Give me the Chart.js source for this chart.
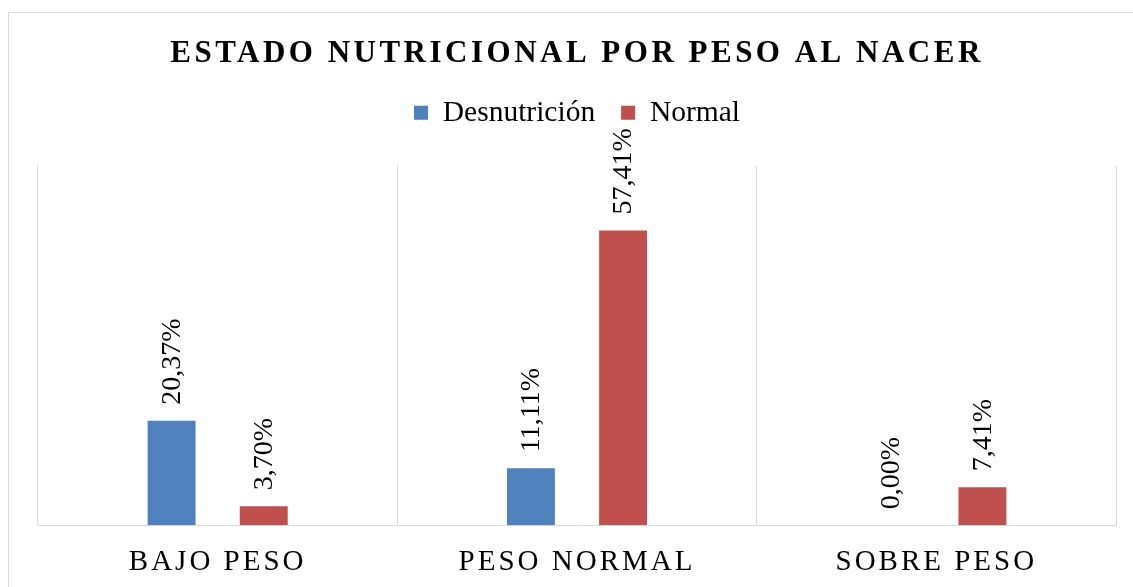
<!DOCTYPE html>
<html>
<head>
<meta charset="utf-8">
<script src="https://cdn.jsdelivr.net/npm/chart.js@4.4.0/dist/chart.umd.min.js"></script>
<style>
    html, body { margin: 0; padding: 0; background: #fff; }
    #wrap { width: 1133px; height: 587px; position: relative; }
</style>
</head>
<body>
<div id="wrap"><canvas id="myChart"></canvas></div>
<script>
var categories = ['BAJO PESO', 'PESO NORMAL', 'SOBRE PESO']
var desnutricion = [20.37, 11.11, 0.00]
var normal = [3.70, 57.41, 7.41]
var seriesNames = ['Desnutrición', 'Normal']
var chartTitle = 'ESTADO NUTRICIONAL POR PESO AL NACER'

var serif = '"Liberation Serif", "Times New Roman", serif'

// white background + thin gray frame, letter spacing for title and axis labels
var frame = {
    id: 'frame',
    beforeDraw: function (chart) {
        var ctx = chart.ctx
        ctx.save()
        ctx.fillStyle = '#fff'
        ctx.fillRect(0, 0, chart.width, chart.height)
        ctx.strokeStyle = '#d9d9d9'
        ctx.lineWidth = 1
        ctx.strokeRect(8.5, 12.5, chart.width + 10, chart.height + 10)
        ctx.restore()
        // legend text is not spaced
        var legend = chart.legend
        if (legend && !legend._noSpacing) {
            var draw = legend.draw
            legend.draw = function () {
                var old = chart.ctx.letterSpacing
                chart.ctx.letterSpacing = '0px'
                draw.apply(legend, arguments)
                chart.ctx.letterSpacing = old
            }
            legend._noSpacing = true
        }
        var title = chart.titleBlock
        if (title && !title._spaced) {
            var drawTitle = title.draw
            title.draw = function () {
                var old = chart.ctx.letterSpacing
                chart.ctx.letterSpacing = '3.5px'
                drawTitle.apply(title, arguments)
                chart.ctx.letterSpacing = old
            }
            title._spaced = true
        }
        ctx.letterSpacing = '3px'
    },
    beforeDatasetsDraw: function (chart) {
        chart.ctx.letterSpacing = '0px'
    }
}

// vertical value labels above each bar
var barLabels = {
    id: 'barLabels',
    afterDatasetsDraw: function (chart) {
        var ctx = chart.ctx
        ctx.save()
        ctx.letterSpacing = '0px'
        ctx.font = '28px ' + serif
        ctx.fillStyle = '#000'
        ctx.textAlign = 'left'
        ctx.textBaseline = 'middle'
        chart.data.datasets.forEach(function (ds, i) {
            chart.getDatasetMeta(i).data.forEach(function (bar, j) {
                ctx.save()
                ctx.translate(bar.x + 1, bar.y - 16)
                ctx.rotate(-Math.PI / 2)
                ctx.fillText(ds.data[j].toFixed(2).replace('.', ',') + '%', 0, 0)
                ctx.restore()
            })
        })
        ctx.restore()
    }
}

var myChart = document.getElementById('myChart').getContext('2d')

var chart = new Chart(myChart, {
    type: 'bar',
    data: {
        labels: categories,
        datasets: [
            {
                label: seriesNames[0],
                data: desnutricion,
                backgroundColor: '#4f81bd',
                borderWidth: 0,
                categoryPercentage: 0.513,
                barPercentage: 0.52
            },
            {
                label: seriesNames[1],
                data: normal,
                backgroundColor: '#c0504d',
                borderWidth: 0,
                categoryPercentage: 0.513,
                barPercentage: 0.52
            }
        ]
    },
    options: {
        responsive: true,
        maintainAspectRatio: false,
        animation: false,
        layout: {
            padding: { left: 38, right: 17, top: 0, bottom: -13 }
        },
        plugins: {
            title: {
                display: true,
                text: chartTitle,
                color: '#000',
                font: { family: serif, size: 31, weight: 'bold', lineHeight: 1 },
                padding: { top: 38, bottom: 3 }
            },
            legend: {
                display: true,
                position: 'top',
                labels: {
                    color: '#000',
                    font: { family: serif, size: 29.5 },
                    boxWidth: 14,
                    boxHeight: 14,
                    padding: 26
                }
            },
            tooltip: { enabled: false }
        },
        scales: {
            x: {
                grid: {
                    color: '#d9d9d9',
                    lineWidth: 1,
                    offset: true,
                    drawTicks: false
                },
                border: { color: '#d9d9d9', width: 1 },
                ticks: {
                    color: '#000',
                    padding: 20,
                    font: { family: serif, size: 29 }
                }
            },
            // empty spacer between legend and plot area
            xTop: {
                type: 'category',
                position: 'top',
                display: true,
                grid: { display: false, drawTicks: false },
                border: { display: false },
                ticks: { display: false },
                title: { display: true, text: '', padding: 0, font: { size: 28.5, lineHeight: 1 } }
            },
            y: {
                display: false,
                min: 0,
                max: 70
            }
        }
    },
    plugins: [frame, barLabels]
})
</script>
</body>
</html>
